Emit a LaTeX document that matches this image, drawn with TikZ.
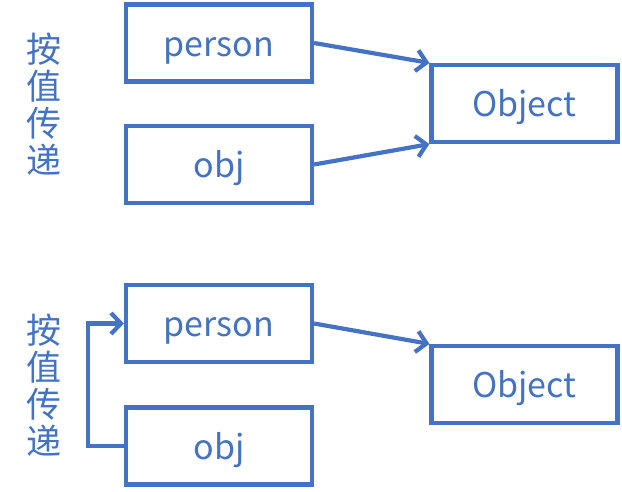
\documentclass[tikz,border=0pt]{standalone}
\usepackage{fontspec}
\setmainfont{Noto Sans CJK SC}
\usetikzlibrary{arrows.meta, positioning}
\definecolor{refBlue}{HTML}{4472C4}

\begin{document}
\begin{tikzpicture}[x=1pt, y=-1pt,
        var/.style={rectangle, draw=refBlue, line width=4.2pt,
          minimum width=186pt, minimum height=77pt,
          text height=30pt, text depth=4pt,
          font=\fontsize{34}{36}\selectfont, text=refBlue},
        label/.style={font=\fontsize{35}{37}\selectfont, text=refBlue,
          align=center, inner sep=0pt},
        link/.style={draw=refBlue, line width=4.2pt,
          -{Straight Barb[length=10pt, width=21pt, line width=4.2pt]}}
      ]
        \useasboundingbox (0,0) rectangle (622,491);
        % value copy
        \node[label] (t1) at (44,104) {按\\值\\传\\递};
        \node[var] (p1) at (219,43)    {person};
        \node[var] (o1) at (219,164.5) {obj};
        \node[var] (obj1) at (524.5,103.5) {Object};
        \draw[link] (p1.east) -- (obj1.north west);
        \draw[link] (o1.east) -- (obj1.south west);
        % second case
        \node[label] (t2) at (44,385) {按\\值\\传\\递};
        \node[var] (p2) at (219,323.5) {person};
        \node[var] (o2) at (219,446)   {obj};
        \node[var] (obj2) at (524.5,384.5) {Object};
        \draw[link] (p2.east) -- (obj2.north west);
        \draw[link] (o2.west) -- ++(-36,0) |- (p2.west);
      \end{tikzpicture}
\end{document}
